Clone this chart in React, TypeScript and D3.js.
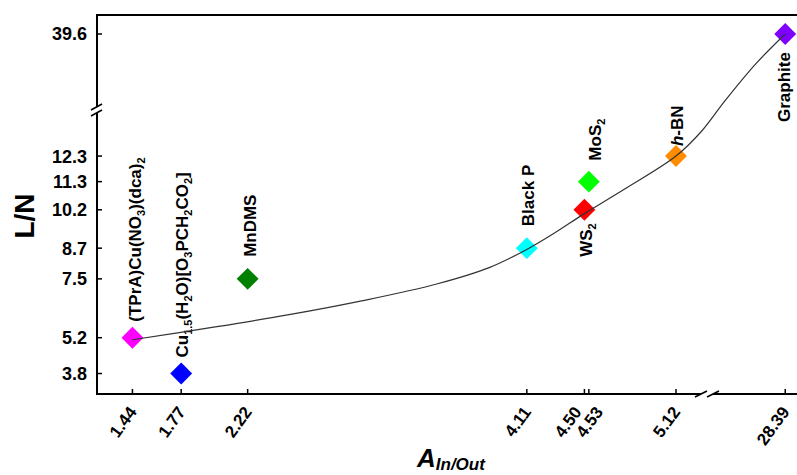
import React, { useEffect, useRef } from 'react';
import * as d3 from 'd3';

// materials, in the order they sit along the x axis
const materials = [
  '(TPrA)Cu(NO_3)(dca)_2',
  'Cu_{1.5}(H_2O)[O_3PCH_2CO_2]',
  'MnDMS',
  'Black P',
  'WS_2',
  'MoS_2',
  '*h*-BN',
  'Graphite',
];
const aInOut = [1.44, 1.77, 2.22, 4.11, 4.5, 4.53, 5.12, 28.39];
const lOverN = [5.2, 3.8, 7.5, 8.7, 10.2, 11.3, 12.3, 39.6];
const colors = ['#ff00ff', '#0000ff', '#008000', '#00ffff', '#ff0000', '#00ff00', '#ff8c00', '#8000ff'];

const xTickValues = [1.44, 1.77, 2.22, 4.11, 4.5, 4.53, 5.12, 28.39];
const xTickLabels = ['1.44', '1.77', '2.22', '4.11', '4.50', '4.53', '5.12', '28.39'];
const yTickValues = [3.8, 5.2, 7.5, 8.7, 10.2, 11.3, 12.3, 39.6];
const yTickLabels = ['3.8', '5.2', '7.5', '8.7', '10.2', '11.3', '12.3', '39.6'];

// fitted curve
const fitA = [1.44, 2.0, 2.5, 3.0, 3.5, 3.86, 4.11, 4.3, 4.5, 4.77, 5.12, 5.29, 27.98, 28.19, 28.39];
const fitL = [5.12, 5.62, 6.1, 6.65, 7.3, 7.95, 8.65, 9.3, 10.05, 11.0, 12.3, 13.25, 36.95, 38.42, 39.6];

const FONT = '"Liberation Sans", Arial, sans-serif';

// split "Cu_{1.5}(H_2O)" / "*h*-BN" into plain, subscript and italic parts
const parseLabel = (s: string) =>
  s.split(/(_\{[^}]*\}|_.|\*[^*]*\*)/).filter(p => p.length).map(p => {
    if (p.startsWith('_{')) return { t: p.slice(2, -1), sub: true, it: false };
    if (p.startsWith('_')) return { t: p.slice(1), sub: true, it: false };
    if (p.startsWith('*')) return { t: p.slice(1, -1), sub: false, it: true };
    return { t: p, sub: false, it: false };
  });

const App = () => {
  const ref = useRef<SVGSVGElement>(null);

  useEffect(() => {
    const svg = d3.select(ref.current);
    svg.selectAll('*').remove();

    const left = 97, top = 15, bottom = 394, right = 800;
    const xBreak = 707, yBreak = 110;

    // broken axes: two linear pieces each, same slope on both sides of the gap
    const x = d3.scaleLinear().domain([1.2, 5.33, 27.86, 28.49]).range([left, xBreak, xBreak, right]);
    const y = d3.scaleLinear().domain([3.0, 14.1, 36.6, 40.35]).range([bottom, yBreak, yBreak, top]);

    const g = svg.append('g')
      .attr('font-family', FONT)
      .attr('font-weight', 'bold');

    // frame / axes
    const axisLine = (x1: number, y1: number, x2: number, y2: number) =>
      g.append('line').attr('x1', x1).attr('y1', y1).attr('x2', x2).attr('y2', y2)
        .attr('stroke', '#000').attr('stroke-width', 2);

    axisLine(left - 1, top, 797, top);
    axisLine(left, top, left, yBreak - 3);
    axisLine(left, yBreak + 3, left, bottom + 1);
    axisLine(left - 1, bottom, xBreak - 6, bottom);
    axisLine(xBreak + 6, bottom, 797, bottom);

    // break marks
    [-3, 3].forEach(o => {
      g.append('line')
        .attr('x1', left - 6).attr('y1', yBreak + o + 3)
        .attr('x2', left + 5).attr('y2', yBreak + o - 3)
        .attr('stroke', '#000').attr('stroke-width', 1.6);
      g.append('line')
        .attr('x1', xBreak + o * 2 - 6).attr('y1', bottom + 3)
        .attr('x2', xBreak + o * 2 + 6).attr('y2', bottom - 3)
        .attr('stroke', '#000').attr('stroke-width', 1.6);
    });

    // y ticks
    yTickValues.forEach((v, i) => {
      g.append('line')
        .attr('x1', left).attr('x2', left + 5)
        .attr('y1', y(v)).attr('y2', y(v))
        .attr('stroke', '#000').attr('stroke-width', 1.5);
      g.append('text')
        .attr('x', left - 10).attr('y', y(v))
        .attr('dy', '0.36em')
        .attr('text-anchor', 'end')
        .attr('font-size', 18)
        .text(yTickLabels[i]);
    });

    // x ticks
    const nudge: Record<string, number> = { '4.50': -7, '4.53': 10 };
    xTickValues.forEach((v, i) => {
      g.append('line')
        .attr('x1', x(v)).attr('x2', x(v))
        .attr('y1', bottom).attr('y2', bottom - 5)
        .attr('stroke', '#000').attr('stroke-width', 1.5);
      const tx = x(v) + 5 + (nudge[xTickLabels[i]] || 0);
      g.append('text')
        .attr('transform', `translate(${tx},412) rotate(-54)`)
        .attr('text-anchor', 'end')
        .attr('font-size', 17)
        .text(xTickLabels[i]);
    });

    // axis titles
    g.append('text')
      .attr('transform', 'translate(34,216) rotate(-90)')
      .attr('text-anchor', 'middle')
      .attr('font-size', 28)
      .text('L/N');

    const xt = g.append('text')
      .attr('x', 417).attr('y', 467)
      .attr('font-style', 'italic');
    xt.append('tspan').attr('font-size', 26).text('A');
    xt.append('tspan').attr('font-size', 17).attr('dy', 3).text('In/Out');

    // markers
    const diamond = d3.symbol().type(d3.symbolSquare).size(240);
    aInOut.forEach((a, i) => {
      g.append('path')
        .attr('d', diamond())
        .attr('transform', `translate(${x(a)},${y(lOverN[i])}) rotate(45)`)
        .attr('fill', colors[i]);
    });

    // labels: offset of the text start from its marker
    const place = [
      [9, -16], [7, -16], [8, -22], [7, -22], [8, 47], [12, -21], [7, -10], [5, 88],
    ];
    materials.forEach((m, i) => {
      const px = x(aInOut[i]) + place[i][0];
      const py = y(lOverN[i]) + place[i][1];
      const t = g.append('text')
        .attr('transform', `translate(${px},${py}) rotate(-90)`)
        .attr('font-size', 17);
      let shifted = false;
      parseLabel(m).forEach(p => {
        const s = t.append('tspan').text(p.t);
        if (p.it) s.attr('font-style', 'italic');
        if (p.sub && !shifted) { s.attr('font-size', 11).attr('dy', 4); shifted = true; }
        else if (!p.sub && shifted) { s.attr('dy', -4); shifted = false; }
        else if (p.sub) s.attr('font-size', 11);
      });
    });

    // fitted curve on top
    const line = d3.line<number>()
      .x((_, i) => x(fitA[i]))
      .y(d => y(d))
      .curve(d3.curveCatmullRom.alpha(0.5));
    g.append('path')
      .datum(fitL)
      .attr('d', line)
      .attr('fill', 'none')
      .attr('stroke', '#333')
      .attr('stroke-width', 1.2);
  }, []);

  return (
    <svg ref={ref} width={797} height={475}
      style={{ position: 'absolute', left: 0, top: 0, background: '#fff' }} />
  );
};

export default App;
